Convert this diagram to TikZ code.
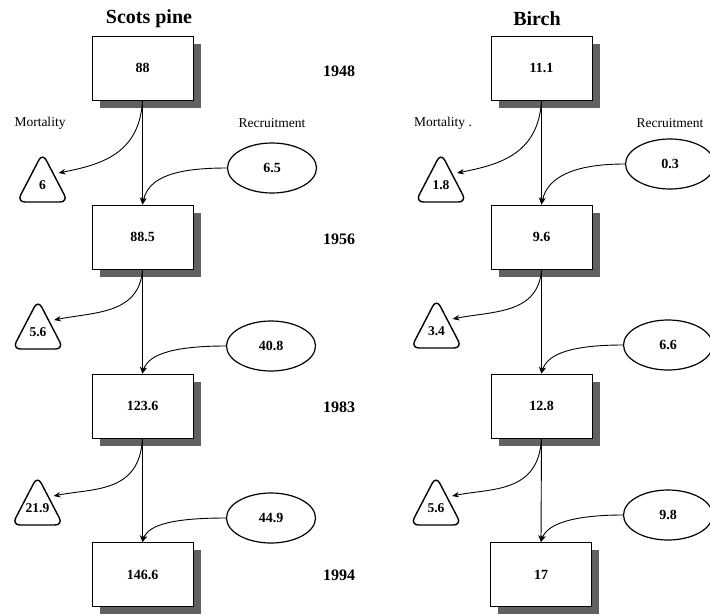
\documentclass[tikz,border=0pt]{standalone}
\usepackage{fontspec}
\setmainfont{Liberation Serif}
\usetikzlibrary{shapes.geometric,shadows,arrows.meta,calc}
\newcommand\trinode[4]{%
  \draw[tri] (#2-25.5,#3) -- (#2,#3-49) -- (#2+25.5,#3) -- cycle;
  \node[trinum] (#1) at (#2,#3-17) {#4};
  \coordinate (#1r) at (#2+16,#3-29);}
\begin{document}
\begin{tikzpicture}[x=1pt,y=-1pt,
  box/.style={draw, line width=0.9pt, fill=white, minimum width=101pt, minimum height=64pt, inner sep=0pt,
    font=\fontsize{14}{15}\selectfont\bfseries,
    drop shadow={shadow xshift=7.5pt, shadow yshift=-7.5pt, fill=black!62, opacity=1}},
  rec/.style={draw, ellipse, line width=1.2pt, minimum width=89pt, minimum height=50pt, inner sep=0pt,
    font=\fontsize{14}{15}\selectfont\bfseries},
  flow/.style={-{Stealth[length=7pt,width=5.5pt]}, line width=0.9pt},
  yr/.style={font=\fontsize{16}{17}\selectfont\bfseries},
  lab/.style={font=\fontsize{13.5}{15}\selectfont},
  ttl/.style={font=\fontsize{20}{22}\selectfont\bfseries},
  trinum/.style={font=\fontsize{13.5}{14}\selectfont\bfseries, inner sep=0pt},
  tri/.style={line width=1.4pt, rounded corners=8pt}]
\useasboundingbox (0,0) rectangle (710,614);

% titles
\node[ttl] (tp) at (149,19) {Scots pine};
\node[ttl] (tb) at (537,19) {Birch};

% labels
\node[lab] (lm1) at (40,123) {Mortality};
\node[lab] (lr1) at (272,123) {Recruitment};
\node[lab] (lm2) at (443,123) {Mortality .};
\node[lab] (lr2) at (670,123) {Recruitment};

% years
\node[yr] (y1) at (339,71) {1948};
\node[yr] (y2) at (339,239) {1956};
\node[yr] (y3) at (339,407) {1983};
\node[yr] (y4) at (339,575) {1994};

% Scots pine boxes
\node[box] (p1) at (142.5,68) {88};
\node[box] (p2) at (142.5,237) {88.5};
\node[box] (p3) at (142.5,406) {123.6};
\node[box] (p4) at (142.5,574.5) {146.6};

% Birch boxes
\node[box] (b1) at (541.5,68) {11.1};
\node[box] (b2) at (541.5,237) {9.6};
\node[box] (b3) at (541.5,406) {12.8};
\node[box] (b4) at (541,574.5) {17};

% recruitment ellipses
\node[rec] (pr1) at (272,168) {6.5};
\node[rec] (pr2) at (271,346) {40.8};
\node[rec] (pr3) at (271,518) {44.9};
\node[rec] (br1) at (670,164) {0.3};
\node[rec] (br2) at (668,345) {6.6};
\node[rec] (br3) at (668,515) {9.8};

% mortality triangles
\trinode{pm1}{42.5}{202}{6}
\trinode{pm2}{38}{349}{5.6}
\trinode{pm3}{37.5}{525}{21.9}
\trinode{bm1}{441}{202}{1.8}
\trinode{bm2}{436.5}{348}{3.4}
\trinode{bm3}{436}{525}{5.6}

% vertical flows
\draw[flow] (p1.south) -- (p2.north);
\draw[flow] (p2.south) -- (p3.north);
\draw[flow] (p3.south) -- (p4.north);
\draw[flow] (b1.south) -- (b2.north);
\draw[flow] (b2.south) -- (b3.north);
\draw[flow] (b3.south) -- (b4.north);

% mortality flows
\draw[flow] (p1.south) .. controls ($(p1.south)+(-3,55)$) and ($(pm1r)+(40,-8)$) .. (pm1r);
\draw[flow] (p2.south) .. controls ($(p2.south)+(-3,45)$) and ($(pm2r)+(40,-8)$) .. (pm2r);
\draw[flow] (p3.south) .. controls ($(p3.south)+(-3,55)$) and ($(pm3r)+(40,-8)$) .. (pm3r);
\draw[flow] (b1.south) .. controls ($(b1.south)+(-3,55)$) and ($(bm1r)+(40,-8)$) .. (bm1r);
\draw[flow] (b2.south) .. controls ($(b2.south)+(-3,45)$) and ($(bm2r)+(40,-8)$) .. (bm2r);
\draw[flow] (b3.south) .. controls ($(b3.south)+(-3,55)$) and ($(bm3r)+(40,-8)$) .. (bm3r);

% recruitment flows
\draw[flow] (pr1.west) .. controls ($(pr1.west)+(-50,0)$) and ($(p2.north)+(6,-28)$) .. (p2.north);
\draw[flow] (pr2.west) .. controls ($(pr2.west)+(-50,0)$) and ($(p3.north)+(6,-20)$) .. (p3.north);
\draw[flow] (pr3.west) .. controls ($(pr3.west)+(-50,0)$) and ($(p4.north)+(6,-18)$) .. (p4.north);
\draw[flow] (br1.west) .. controls ($(br1.west)+(-50,0)$) and ($(b2.north)+(6,-28)$) .. (b2.north);
\draw[flow] (br2.west) .. controls ($(br2.west)+(-50,0)$) and ($(b3.north)+(6,-20)$) .. (b3.north);
\draw[flow] (br3.west) .. controls ($(br3.west)+(-50,0)$) and ($(b4.north)+(6,-18)$) .. (b4.north);
\end{tikzpicture}
\end{document}
